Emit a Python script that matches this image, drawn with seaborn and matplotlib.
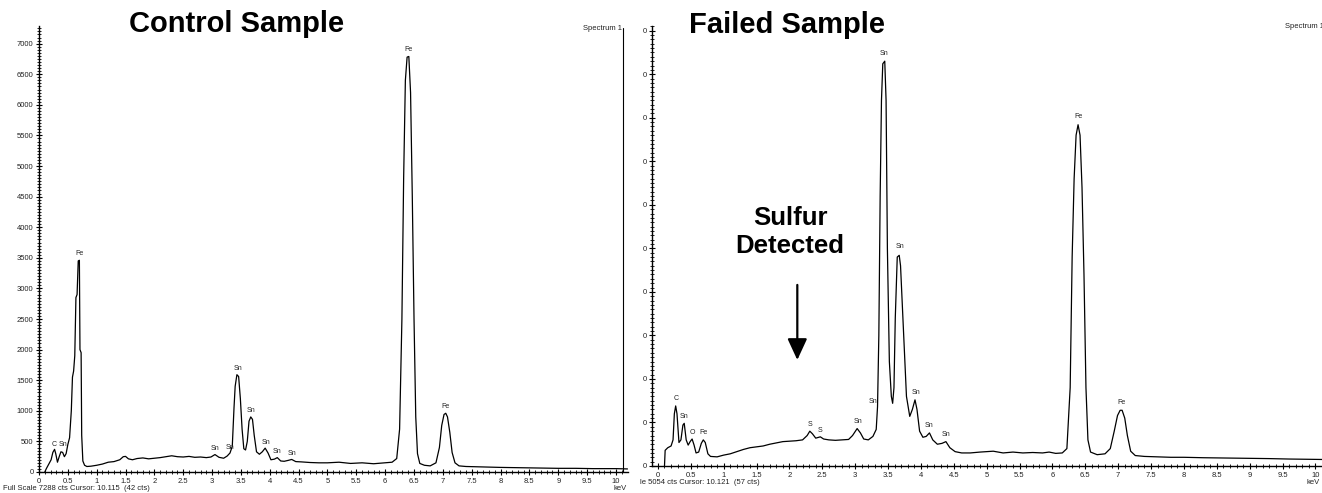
import numpy as np
import pandas as pd
import matplotlib
matplotlib.use("Agg")
import matplotlib.pyplot as plt
import seaborn as sns

# ---------------- data ----------------
ctrl_kev = [0.10, 0.13, 0.17, 0.21, 0.24, 0.27, 0.29, 0.32, 0.35, 0.38, 0.41, 0.44, 0.47, 0.50,
            0.53, 0.56, 0.58, 0.60, 0.62, 0.64, 0.66, 0.68, 0.70, 0.71, 0.73, 0.74, 0.76, 0.79,
            0.83, 0.90, 1.00, 1.10, 1.20, 1.30, 1.40, 1.46, 1.50, 1.55, 1.62, 1.70, 1.80, 1.90,
            2.00, 2.10, 2.20, 2.30, 2.40, 2.50, 2.60, 2.70, 2.80, 2.90, 2.98, 3.05, 3.12, 3.20,
            3.26, 3.31, 3.35, 3.38, 3.40, 3.43, 3.46, 3.49, 3.52, 3.55, 3.58, 3.61, 3.64, 3.67,
            3.70, 3.73, 3.77, 3.82, 3.87, 3.92, 3.97, 4.02, 4.08, 4.13, 4.19, 4.25, 4.32, 4.38,
            4.45, 4.55, 4.70, 4.85, 5.00, 5.20, 5.40, 5.60, 5.80, 6.00, 6.12, 6.20, 6.25, 6.29,
            6.32, 6.35, 6.38, 6.41, 6.44, 6.47, 6.50, 6.53, 6.56, 6.60, 6.68, 6.78, 6.88, 6.94,
            6.98, 7.02, 7.05, 7.08, 7.12, 7.16, 7.21, 7.28, 7.40, 7.60, 7.80, 8.00, 8.30, 8.60,
            9.00, 9.30, 9.60, 10.00, 10.20]
ctrl_cts = [0, 60, 130, 200, 320, 370, 300, 160, 250, 330, 320, 250, 300, 450,
            560, 1000, 1550, 1650, 1900, 2850, 2900, 3450, 3460, 2000, 1950, 600, 180, 110,
            90, 95, 110, 130, 160, 170, 200, 250, 255, 215, 200, 220, 230, 215,
            225, 235, 250, 265, 250, 245, 255, 240, 245, 235, 245, 285, 240, 225,
            260, 310, 420, 1050, 1400, 1590, 1560, 1200, 700, 380, 360, 500, 830, 900,
            860, 600, 330, 290, 330, 390, 310, 200, 210, 235, 180, 175, 190, 205,
            170, 165, 155, 150, 150, 160, 140, 150, 135, 150, 160, 220, 700, 2500,
            4800, 6400, 6780, 6790, 6200, 4500, 2500, 900, 300, 140, 110, 100, 150, 400,
            760, 940, 960, 900, 650, 320, 150, 100, 90, 85, 80, 75, 70, 65,
            60, 60, 55, 55, 50]

fail_kev = [0.10, 0.11, 0.15, 0.20, 0.23, 0.25, 0.27, 0.29, 0.32, 0.35, 0.38, 0.40, 0.43, 0.46,
            0.49, 0.52, 0.55, 0.58, 0.62, 0.66, 0.69, 0.72, 0.76, 0.80, 0.90, 1.00, 1.10, 1.20,
            1.30, 1.40, 1.50, 1.60, 1.70, 1.80, 1.90, 2.00, 2.10, 2.20, 2.27, 2.31, 2.35, 2.40,
            2.47, 2.52, 2.60, 2.70, 2.80, 2.90, 2.96, 3.03, 3.08, 3.13, 3.20, 3.27, 3.32, 3.34,
            3.36, 3.38, 3.40, 3.42, 3.45, 3.47, 3.49, 3.52, 3.55, 3.57, 3.59, 3.61, 3.64, 3.67,
            3.69, 3.72, 3.75, 3.78, 3.83, 3.87, 3.91, 3.94, 3.98, 4.03, 4.08, 4.13, 4.18, 4.25,
            4.32, 4.38, 4.44, 4.52, 4.62, 4.75, 4.90, 5.00, 5.10, 5.25, 5.40, 5.55, 5.70, 5.85,
            5.95, 6.05, 6.15, 6.22, 6.27, 6.30, 6.33, 6.36, 6.39, 6.42, 6.45, 6.48, 6.51, 6.54,
            6.58, 6.68, 6.80, 6.88, 6.94, 6.99, 7.03, 7.06, 7.10, 7.14, 7.19, 7.26, 7.40, 7.60,
            7.80, 8.00, 8.30, 8.60, 9.00, 9.30, 9.60, 10.00, 10.10]
fail_cts = [0, 180, 210, 230, 300, 600, 690, 600, 270, 300, 470, 490, 300, 240,
            280, 310, 240, 150, 160, 260, 300, 270, 140, 110, 105, 125, 140, 165,
            190, 210, 220, 230, 250, 265, 280, 285, 290, 300, 350, 400, 370, 320,
            335, 310, 300, 295, 300, 305, 350, 430, 380, 310, 300, 340, 420, 680,
            1500, 3100, 4200, 4620, 4650, 4200, 2500, 1200, 800, 720, 900, 1700, 2400, 2420,
            2300, 1800, 1300, 800, 570, 650, 760, 650, 400, 330, 340, 380, 300, 250,
            260, 280, 210, 165, 150, 150, 160, 165, 170, 150, 160, 150, 155, 150,
            160, 145, 150, 200, 900, 2400, 3300, 3800, 3920, 3800, 3200, 2200, 900, 300,
            160, 130, 140, 200, 400, 580, 640, 640, 550, 350, 170, 120, 110, 105,
            100, 100, 95, 92, 88, 85, 80, 77, 75]

ctrl_labels = ["C", "Sn", "Fe", "Sn", "Sn", "Sn", "Sn", "Sn", "Sn", "Sn", "Fe", "Fe"]
ctrl_lab_kev = [0.27, 0.41, 0.70, 3.05, 3.31, 3.45, 3.68, 3.93, 4.13, 4.38, 6.40, 7.05]
ctrl_lab_cts = [400, 390, 3520, 320, 350, 1630, 950, 430, 270, 245, 6840, 1010]

fail_labels = ["C", "Sn", "O", "Fe", "S", "S", "Sn", "Sn", "Sn", "Sn", "Sn", "Sn", "Sn", "Fe", "Fe"]
fail_lab_kev = [0.27, 0.40, 0.52, 0.70, 2.31, 2.47, 3.04, 3.27, 3.44, 3.68, 3.92, 4.13, 4.38, 6.40, 7.05]
fail_lab_cts = [730, 530, 345, 340, 440, 370, 470, 700, 4700, 2480, 800, 420, 320, 3970, 690]

xtick_vals = [0, 0.5, 1, 1.5, 2, 2.5, 3, 3.5, 4, 4.5, 5, 5.5, 6, 6.5, 7, 7.5, 8, 8.5, 9, 9.5, 10]
xtick_text = ["0", "0.5", "1", "1.5", "2", "2.5", "3", "3.5", "4", "4.5", "5", "5.5", "6",
              "6.5", "7", "7.5", "8", "8.5", "9", "9.5", "10"]
ctrl_yticks = [0, 500, 1000, 1500, 2000, 2500, 3000, 3500, 4000, 4500, 5000, 5500, 6000, 6500, 7000]
fail_yticks = [0, 500, 1000, 1500, 2000, 2500, 3000, 3500, 4000, 4500, 5000]
fail_ytick_text = ["0"] * len(fail_yticks)

# ---------------- style ----------------
sns.set_style("white")
plt.rcParams["font.family"] = ["Liberation Sans", "DejaVu Sans"]

W, H = 1322, 493
fig = plt.figure(figsize=(W / 100, H / 100), dpi=100)


def px_axes(left, right, top, bottom):
    return fig.add_axes([left / W, (H - bottom) / H, (right - left) / W, (bottom - top) / H])


def style_axes(ax, yticks, ytext, xlim, ylim):
    ax.set_xlim(*xlim)
    ax.set_ylim(*ylim)
    for s in ["top", "right"]:
        ax.spines[s].set_visible(False)
    for s in ["left", "bottom"]:
        ax.spines[s].set_color("black")
        ax.spines[s].set_linewidth(1.0)
    ax.set_xticks(xtick_vals)
    ax.set_xticklabels(xtick_text)
    ax.set_yticks(yticks)
    ax.set_yticklabels(ytext)
    ax.set_xticks(np.arange(0, 10.15, 0.1), minor=True)
    ax.set_yticks(np.arange(0, ylim[1], 50), minor=True)
    ax.tick_params(axis="both", which="both", bottom=True, left=True, top=False, right=False)
    ax.tick_params(axis="both", which="major", direction="inout", length=4, width=0.8,
                   labelsize=5.5, pad=2, colors="black", labelcolor="#222222")
    ax.tick_params(axis="both", which="minor", direction="inout", length=2.5, width=0.6,
                   colors="black")
    ax.set_xlabel("")
    ax.set_ylabel("")
    ax.grid(False)


# ---- left: control ----
ax1 = px_axes(39, 627.5, 26, 472)
df1 = pd.DataFrame({"keV": ctrl_kev, "counts": ctrl_cts})
sns.lineplot(data=df1, x="keV", y="counts", ax=ax1, color="black", linewidth=0.9,
             estimator=None, sort=False)
style_axes(ax1, ctrl_yticks, [str(v) for v in ctrl_yticks], (0, 10.2), (0, 7288))
ax1.axvline(10.115, ymax=0.995, color="black", linewidth=0.8)
for t, x, y in zip(ctrl_labels, ctrl_lab_kev, ctrl_lab_cts):
    ax1.text(x, y, t, fontsize=5, ha="center", va="bottom", color="#222222")
ax1.text(10.1, 7300, "Spectrum 1", fontsize=5.5, ha="right", va="top", color="#222222")
fig.text(620 / W, 1 - 488 / H, "keV", fontsize=5.5, ha="center", va="center", color="#222222")
fig.text(3 / W, 1 - 488 / H, "Full Scale 7288 cts Cursor: 10.115  (42 cts)", fontsize=5.5,
         ha="left", va="center", color="#222222")

# ---- right: failed ----
ax2 = px_axes(652, 1322, 26, 466)
df2 = pd.DataFrame({"keV": fail_kev, "counts": fail_cts})
sns.lineplot(data=df2, x="keV", y="counts", ax=ax2, color="black", linewidth=0.9,
             estimator=None, sort=False)
style_axes(ax2, fail_yticks, fail_ytick_text, (-0.09, 10.076), (0, 5054))
for t, x, y in zip(fail_labels, fail_lab_kev, fail_lab_cts):
    ax2.text(x, y, t, fontsize=5, ha="center", va="bottom", color="#222222")
fig.text(1285 / W, 1 - 27 / H, "Spectrum 1", fontsize=5.5, ha="left", va="center", color="#222222")
fig.text(1320 / W, 1 - 482 / H, "keV", fontsize=5.5, ha="right", va="center", color="#222222")
fig.text(640 / W, 1 - 483 / H, "le 5054 cts Cursor: 10.121  (57 cts)", fontsize=5.5,
         ha="left", va="center", color="#222222")

# arrow pointing at sulfur region
ax2.annotate("", xy=(2.12, 1218), xytext=(2.12, 2080),
             arrowprops=dict(arrowstyle="-|>,head_width=0.3,head_length=0.65",
                             mutation_scale=20, color="black", lw=1.6,
                             shrinkA=0, shrinkB=0))

# titles / annotation text
fig.text(237 / W, 1 - 24 / H, "Control Sample", fontsize=21, fontweight="bold",
         ha="center", va="center", color="black")
fig.text(787 / W, 1 - 25 / H, "Failed Sample", fontsize=21, fontweight="bold",
         ha="center", va="center", color="black")
fig.text(790 / W, 1 - 232 / H, "Sulfur\nDetected", fontsize=18.5, fontweight="bold",
         ha="center", va="center", color="black", linespacing=1.2)

fig.savefig("out.png", dpi=100, facecolor="white")
